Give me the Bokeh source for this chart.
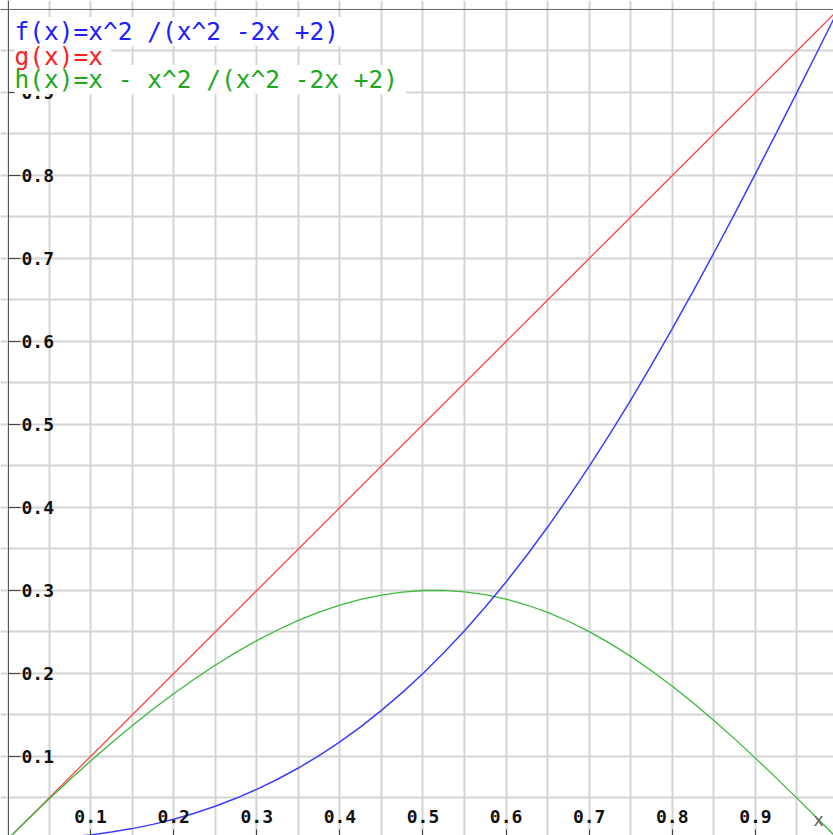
from bokeh.plotting import figure
from bokeh.models import Range1d, LinearAxis, FixedTicker, Grid, Span
from bokeh.core.properties import value
from bokeh.embed import file_html
from bokeh.resources import INLINE

# ---- data ----
x_vals = [0.0, 0.025, 0.05, 0.075, 0.1, 0.125, 0.15, 0.175, 0.2, 0.225,
          0.25, 0.275, 0.3, 0.325, 0.35, 0.375, 0.4, 0.425, 0.45, 0.475,
          0.5, 0.525, 0.55, 0.575, 0.6, 0.625, 0.65, 0.675, 0.7, 0.725,
          0.75, 0.775, 0.8, 0.825, 0.85, 0.875, 0.9, 0.925, 0.95, 0.975, 1.0]
f_vals = [0.0, 0.0003, 0.0013, 0.0030, 0.0055, 0.0089, 0.0131, 0.0182, 0.0244, 0.0316,
          0.0400, 0.0496, 0.0604, 0.0726, 0.0861, 0.1011, 0.1176, 0.1357, 0.1555, 0.1769,
          0.2000, 0.2249, 0.2516, 0.2800, 0.3103, 0.3425, 0.3764, 0.4121, 0.4495, 0.4887,
          0.5294, 0.5717, 0.6154, 0.6604, 0.7066, 0.7538, 0.8020, 0.8508, 0.9002, 0.9500, 1.0]
g_vals = [0.0, 0.025, 0.05, 0.075, 0.1, 0.125, 0.15, 0.175, 0.2, 0.225,
          0.25, 0.275, 0.3, 0.325, 0.35, 0.375, 0.4, 0.425, 0.45, 0.475,
          0.5, 0.525, 0.55, 0.575, 0.6, 0.625, 0.65, 0.675, 0.7, 0.725,
          0.75, 0.775, 0.8, 0.825, 0.85, 0.875, 0.9, 0.925, 0.95, 0.975, 1.0]
h_vals = [0.0, 0.0247, 0.0487, 0.0720, 0.0945, 0.1162, 0.1369, 0.1568, 0.1756, 0.1934,
          0.2100, 0.2254, 0.2396, 0.2524, 0.2639, 0.2739, 0.2824, 0.2893, 0.2945, 0.2981,
          0.3000, 0.3001, 0.2984, 0.2950, 0.2897, 0.2825, 0.2736, 0.2629, 0.2505, 0.2363,
          0.2206, 0.2033, 0.1846, 0.1646, 0.1434, 0.1212, 0.0980, 0.0742, 0.0498, 0.0250, 0.0]

tick_vals = [0.1, 0.2, 0.3, 0.4, 0.5, 0.6, 0.7, 0.8, 0.9]
tick_labels = ["0.1", "0.2", "0.3", "0.4", "0.5", "0.6", "0.7", "0.8", "0.9"]
grid_vals = [0.05, 0.1, 0.15, 0.2, 0.25, 0.3, 0.35, 0.4, 0.45, 0.5,
             0.55, 0.6, 0.65, 0.7, 0.75, 0.8, 0.85, 0.9, 0.95]

legend_labels = ["f(x)=x^2 /(x^2 -2x +2)", "g(x)=x", "h(x)=x - x^2 /(x^2 -2x +2)"]
legend_y = [0.9735, 0.9434, 0.9157]
legend_colors = ["#2020ff", "#ff2020", "#20a820"]
line_colors = ["#3c3cff", "#ff4a4a", "#3cb83c"]
axis_name = ["x"]

# ---- figure ----
p = figure(width=833, height=835, output_backend="svg", toolbar_location=None,
           x_range=Range1d(-0.0084, 0.9940), y_range=Range1d(0.0048, 1.0108),
           x_axis_location=None, y_axis_location=None, min_border=0)
p.outline_line_color = None
p.background_fill_color = "white"
p.border_fill_color = "white"

for dim in (0, 1):
    p.add_layout(Grid(dimension=dim, ticker=FixedTicker(ticks=grid_vals),
                      grid_line_color="#d4d4d4", grid_line_width=2))

p.add_layout(Span(location=1.0, dimension="width", line_color="#666666", line_width=1))

overrides = {t: l for t, l in zip(tick_vals, tick_labels)}

yaxis = LinearAxis(ticker=FixedTicker(ticks=tick_vals), fixed_location=0.0012,
                   major_label_overrides=overrides,
                   major_tick_out=12, major_tick_in=0, minor_tick_out=0, minor_tick_in=0,
                   major_label_standoff=1,
                   axis_line_color="#555555", major_tick_line_color="#444444",
                   major_label_text_font="DejaVu Sans Mono",
                   major_label_text_font_style="bold",
                   major_label_text_font_size="18px",
                   major_label_text_color="#111111")
p.add_layout(yaxis, "right")

xaxis = LinearAxis(ticker=FixedTicker(ticks=tick_vals), fixed_location=0.0,
                   major_label_overrides=overrides,
                   major_tick_out=10, major_tick_in=0, minor_tick_out=0, minor_tick_in=0,
                   major_label_standoff=6,
                   axis_line_color="#555555", major_tick_line_color="#444444",
                   major_label_text_font="DejaVu Sans Mono",
                   major_label_text_font_style="bold",
                   major_label_text_font_size="18px",
                   major_label_text_color="#111111")
p.add_layout(xaxis, "above")

p.line(x_vals, g_vals, line_color=line_colors[1], line_width=1.3)
p.line(x_vals, h_vals, line_color=line_colors[2], line_width=1.3)
p.line(x_vals, f_vals, line_color=line_colors[0], line_width=1.5)

p.text(x=[0.976], y=[0.023], text=axis_name, text_color="#666666",
       text_font=value("DejaVu Sans"), text_font_size="17px",
       text_align="center", text_baseline="middle")

# white boxes behind the legend lines, then the legend text itself on top
p.text(x=[0.0085] * 3, y=legend_y, text=legend_labels, text_color="white", text_alpha=0,
       text_font=value("DejaVu Sans Mono"), text_font_size="24.5px",
       text_align="left", text_baseline="middle",
       background_fill_color="white", padding=(4, 0), level="annotation")
p.text(x=[0.0085] * 3, y=legend_y, text=legend_labels, text_color=legend_colors,
       text_font=value("DejaVu Sans Mono"), text_font_size="24.5px",
       text_align="left", text_baseline="middle", level="annotation")

open("out.html", "w").write(file_html(p, INLINE))
